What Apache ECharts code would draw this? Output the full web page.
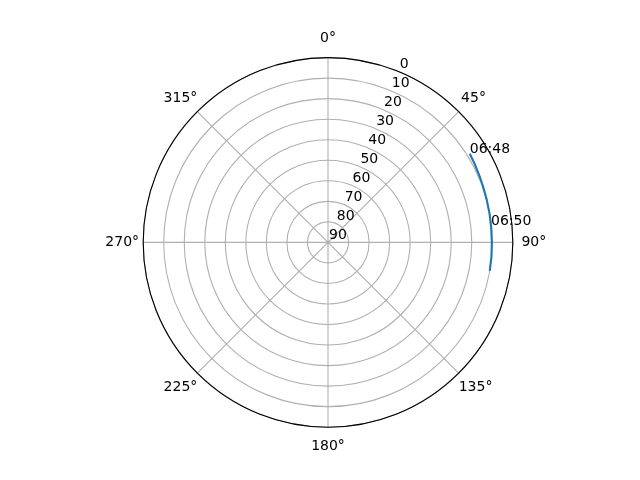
<!DOCTYPE html>
<html>
<head>
<meta charset="utf-8">
<script src="https://cdn.jsdelivr.net/npm/echarts@6/dist/echarts.min.js"></script>
<style>
html,body{margin:0;padding:0;background:#fff}
#chart{width:640px;height:480px}
</style>
</head>
<body>
<div id="chart"></div>
<script>
// track on the sky: azimuth in degrees (clockwise from north), elevation in degrees
var azimuth   = [58, 62, 66, 70, 75, 80, 85, 90, 95, 100]
var elevation = [8.6, 9.0, 9.4, 9.7, 9.95, 10.1, 10.2, 10.2, 10.1, 10.0]
// time stamps written along the track
var stampText      = ['06:48', '06:50']
var stampAzimuth   = [58, 84.1]
var stampElevation = [8.6, 10.2]
// axis ticks
var angleTicks = [0, 45, 90, 135, 180, 225, 270, 315]
var elevTicks  = [0, 10, 20, 30, 40, 50, 60, 70, 80, 90]

var font = 'DejaVu Sans'
var fs = 14

// padding per angle label so every label sits centred ~20px outside the rim
function angleRich(){
	var rich = {}
	angleTicks.forEach(function(t){
		var s = Math.sin(t*Math.PI/180), c = Math.cos(t*Math.PI/180)
		var w = (String(t).length*0.636 + 0.5)*fs, h = fs
		var dx = 21, dy = 19.5
		var pad = [0,0,0,0]   // top right bottom left
		if(Math.abs(s) >= 0.3){
			if(s > 0) pad[3] = Math.max(0, dx*s - w/2)
			else pad[1] = Math.max(0, -dx*s - w/2)
		}
		if(Math.abs(c) >= 0.3){
			if(c > 0) pad[2] = Math.max(0, dy*c - h/2)
			else pad[0] = Math.max(0, -dy*c - h/2)
		}
		rich['a'+t] = {fontFamily:font, fontSize:fs, color:'#000', padding:pad}
	})
	return rich
}

var gridColor = '#b0b0b0'
var option = {
	animation: false,
	backgroundColor: '#fff',
	polar: [
		{center: [328, 242.4], radius: 184.8},
		{center: [328, 242.4], radius: 184.8}   // only carries the elevation labels at 22.5 deg
	],
	angleAxis: [{
		polarIndex: 0,
		type: 'value', min: 0, max: 360, interval: 45,
		startAngle: 90, clockwise: true,
		axisLine: {lineStyle: {color: '#000', width: 1.1}},
		axisTick: {show: false},
		axisLabel: {
			margin: 0,
			formatter: function(v){ return '{a'+v+'|'+v+'°}' },
			rich: angleRich()
		},
		splitLine: {lineStyle: {color: gridColor, width: 1.1}}
	},{
		polarIndex: 1,
		type: 'value', min: 0, max: 360,
		startAngle: 67.5, clockwise: true,
		show: false
	}],
	radiusAxis: [{
		polarIndex: 0,
		type: 'value', min: 0, max: 90, interval: 10, inverse: true,
		axisLine: {show: false},
		axisTick: {show: false},
		axisLabel: {show: false},
		splitLine: {lineStyle: {color: gridColor, width: 1.1}}
	},{
		polarIndex: 1,
		type: 'value', min: 0, max: 90, interval: 10, inverse: true,
		axisLine: {show: false},
		axisTick: {show: false},
		splitLine: {show: false},
		axisLabel: {
			margin: 0, color: '#000', fontFamily: font, fontSize: fs,
			align: 'left', verticalAlign: 'bottom',
			padding: [0, 0, 0, 1],
			showMinLabel: true, showMaxLabel: true,
			formatter: function(v){ return elevTicks.indexOf(v) >= 0 ? String(v) : '' }
		}
	}],
	series: [{
		type: 'line',
		coordinateSystem: 'polar',
		polarIndex: 0,
		showSymbol: false,
		silent: true,
		lineStyle: {color: '#1f77b4', width: 2.1},
		data: azimuth.map(function(a,i){ return [elevation[i], a] })
	},{
		type: 'scatter',
		coordinateSystem: 'polar',
		polarIndex: 0,
		silent: true,
		symbolSize: 0,
		itemStyle: {color: '#1f77b4'},
		label: {
			show: true,
			position: [0, 0],
			align: 'left',
			verticalAlign: 'bottom',
			offset: [0, 3],
			opacity: 1,
			color: '#000', fontFamily: font, fontSize: fs,
			formatter: function(p){ return stampText[p.dataIndex] }
		},
		data: stampAzimuth.map(function(a,i){ return [stampElevation[i], a] })
	}]
}

var myChart = echarts.init(document.getElementById('chart'))
myChart.setOption(option)
</script>
</body>
</html>
